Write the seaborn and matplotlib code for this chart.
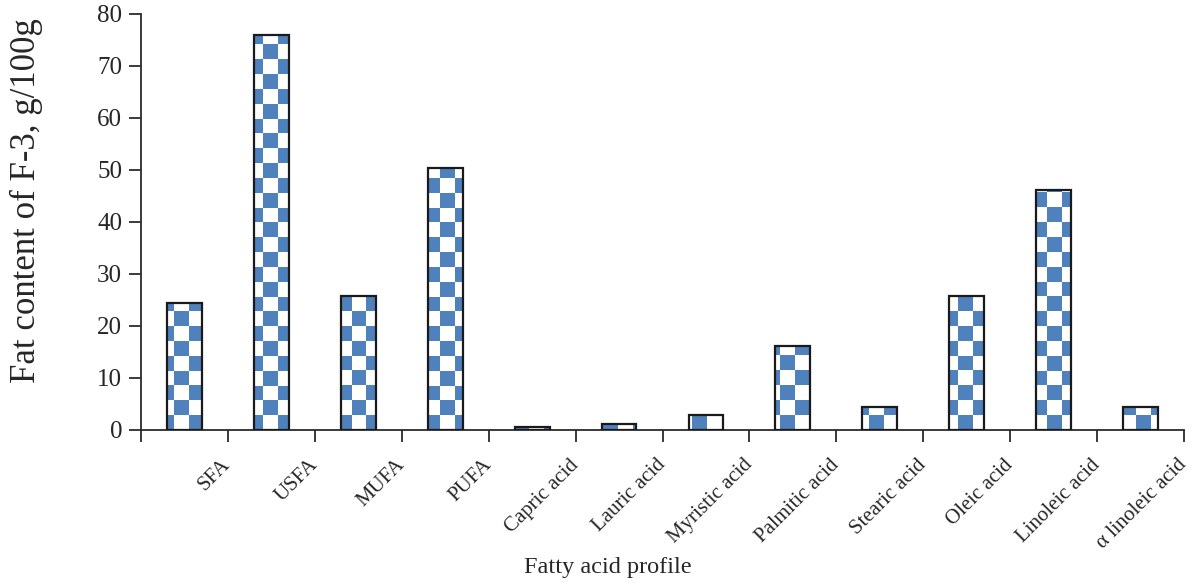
import numpy as np
import pandas as pd
import matplotlib
matplotlib.use("Agg")
import matplotlib.pyplot as plt
import matplotlib.transforms as mtransforms
import seaborn as sns

categories = ["SFA", "USFA", "MUFA", "PUFA", "Capric acid", "Lauric acid",
              "Myristic acid", "Palmitic acid", "Stearic acid", "Oleic acid",
              "Linoleic acid", "\u03b1 linoleic acid"]
values = [24.5, 76.0, 25.8, 50.3, 0.5, 1.1, 2.8, 16.2, 4.5, 25.8, 46.2, 4.4]
y_ticks = [0, 10, 20, 30, 40, 50, 60, 70, 80]

sns.set_theme(style="white")
plt.rcParams['font.family'] = ['Liberation Serif', 'DejaVu Serif']

W, H = 1198, 586
fig = plt.figure(figsize=(W / 100, H / 100), dpi=100)
ax = fig.add_axes([141 / W, 1 - 430 / H, (1184 - 141) / W, (430 - 14) / H])

df = pd.DataFrame({"cat": categories, "val": values})
sns.barplot(data=df, x="cat", y="val", order=categories, color="white",
            edgecolor="#1a1a1a", linewidth=1.6, width=0.4, saturation=1,
            ax=ax)

ax.set_xlim(-0.5, 11.5)
ax.set_ylim(0, 80)

# checkerboard fill (pattern in pixel-sized squares)
blue = np.array([0x4F, 0x81, 0xBD]) / 255.0
sq = 14.8
px_x = (1184 - 141) / 12.0
px_y = (430 - 14) / 80.0
dx = sq / px_x
dy = sq / px_y
x0 = -0.5 + (18 - 2 * sq) / px_x
ncol = int(np.ceil((11.5 - x0) / dx)) + 1
nrow = int(np.ceil(80 / dy)) + 1
rr, cc = np.meshgrid(np.arange(nrow), np.arange(ncol), indexing="ij")
mask = (rr + cc) % 2 == 0
img = np.ones((nrow, ncol, 3))
img[mask] = blue
extent = (x0, x0 + ncol * dx, 0, nrow * dy)
for p in list(ax.patches):
    p.set_facecolor("none")
    p.set_zorder(3)
    im = ax.imshow(img, extent=extent, origin="lower", aspect="auto",
                   interpolation="nearest", zorder=2)
    im.set_clip_path(p)

ax.set_xlim(-0.5, 11.5)
ax.set_ylim(0, 80)

# axes styling
for s in ["top", "right"]:
    ax.spines[s].set_visible(False)
for s in ["left", "bottom"]:
    ax.spines[s].set_color("#2b2b2b")
    ax.spines[s].set_linewidth(1.3)

ax.set_yticks(y_ticks)
ax.set_yticklabels([str(v) for v in y_ticks], fontsize=18)
ax.tick_params(axis="y", direction="out", length=9, width=1.3,
               color="#2b2b2b", pad=4.5, left=True)

ax.set_xticks(np.arange(-0.5, 12, 1))
ax.set_xticklabels([""] + categories, fontsize=15, rotation=45,
                   ha="right", va="center", rotation_mode="anchor")
ax.tick_params(axis="x", direction="out", length=8.6, width=1.3,
               color="#2b2b2b", pad=14.5, bottom=True)
offset = mtransforms.ScaledTranslation(0 / 100, 0, fig.dpi_scale_trans)
for lbl in ax.get_xticklabels():
    lbl.set_transform(lbl.get_transform() + offset)

ax.set_xlabel("Fatty acid profile", fontsize=17.5)
ax.xaxis.set_label_coords((608 - 141) / (1184 - 141), -(567 - 430) / (430 - 14))
ax.xaxis.label.set_va("center")
ax.set_ylabel("Fat content of F-3, g/100g", fontsize=25)
ax.yaxis.set_label_coords(-(141 - 26) / (1184 - 141), (430 - 201) / (430 - 14))
ax.yaxis.label.set_va("center")

ax.grid(False)
fig.savefig("out.png", dpi=100)
